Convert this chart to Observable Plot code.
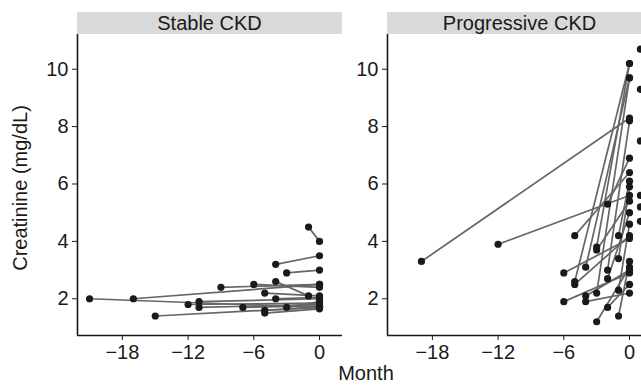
<!DOCTYPE html>
<html><head><meta charset="utf-8">
<script src="https://cdn.jsdelivr.net/npm/d3@7"></script>
<script src="https://cdn.jsdelivr.net/npm/@observablehq/plot@0.6"></script>
<style>
html,body{margin:0;padding:0;background:#fff;overflow:hidden;}
#wrap{position:relative;width:660px;height:389px;font-family:"Liberation Sans",Arial,sans-serif;color:#1a1a1a;}
#wrap svg{max-width:none !important;}
.panel{position:absolute;top:0;}
.strip{position:absolute;top:12px;height:22px;background:#d9d9d9;font-size:20px;line-height:23px;text-align:center;color:#1a1a1a;}
#ylab{position:absolute;left:20px;top:188px;transform:translate(-50%,-50%) rotate(-90deg);font-size:20px;white-space:nowrap;}
#xlab{position:absolute;top:362px;left:366px;transform:translateX(-50%);font-size:20px;}
</style>
</head><body>
<div id="wrap">
  <div id="left" class="panel" style="left:0"></div>
  <div id="right" class="panel" style="left:342px"></div>
  <div class="strip" style="left:77px;width:265px">Stable CKD</div>
  <div class="strip" style="left:387px;width:265px">Progressive CKD</div>
  <div id="ylab">Creatinine (mg/dL)</div>
  <div id="xlab">Month</div>
</div>
<script>
// ---- data ----
const panels = ["Stable CKD", "Progressive CKD"];
const xTicks = [-18, -12, -6, 0];
const yTicks = [2, 4, 6, 8, 10];

const stableFromMonth = [-21, -17, -15, -12, -11, -11, -9, -7, -6, -5, -5, -5, -4, -4, -3, -4, -3, -1];
const stableFromValue = [2.0, 2.0, 1.4, 1.8, 1.9, 1.7, 2.4, 1.7, 2.5, 2.2, 1.6, 1.5, 2.6, 2.0, 1.7, 3.2, 2.9, 4.5];
const stableToMonth   = [0, 0, 0, 0, 0, 0, 0, 0, 0, 0, 0, 0, -1, 0, 0, 0, 0, 0];
const stableToValue   = [1.7, 2.5, 1.7, 1.85, 2.0, 1.8, 2.5, 1.75, 2.4, 2.1, 1.7, 1.65, 2.1, 2.05, 1.9, 3.5, 3.0, 4.0];
const stableLoneMonth = [];
const stableLoneValue = [];

const progFromMonth = [-19, -12, -6, -6, -5, -5, -5, -4, -4, -4, -3, -3, -3, -3, -2, -2, -2, -2, -1, -1, -1, -1];
const progFromValue = [3.3, 3.9, 2.9, 1.9, 4.2, 2.6, 2.5, 3.1, 2.1, 1.9, 3.8, 3.7, 2.2, 1.2, 5.3, 3.0, 2.7, 1.7, 4.2, 3.4, 2.3, 1.4];
const progToMonth   = [0, 0, 0, 0, 0, 0, 0, 0, 0, 0, 0, 0, 0, 0, 0, 0, 0, 0, 0, 0, 0, 0];
const progToValue   = [8.3, 5.6, 4.1, 2.9, 6.4, 10.2, 4.2, 9.7, 3.0, 2.2, 10.2, 5.4, 9.7, 3.1, 6.9, 8.2, 5.0, 2.5, 6.1, 5.9, 4.6, 3.3];
const progLoneMonth = [1, 1, 1, 1, 1, 1];
const progLoneValue = [10.7, 9.3, 7.5, 5.6, 5.2, 4.7];

// ---- layout ----
const xDomain = [-22.1, 2.1];
const yDomain = [0.72, 11.21];
const ink = "#1a1a1a";

function build(fm, fv, tm, tv, lm, lv) {
  const pairs = fm.map((m, i) => ({m1: m, v1: fv[i], m2: tm[i], v2: tv[i]}));
  const dots = [
    ...pairs.map(d => ({m: d.m1, v: d.v1})),
    ...pairs.map(d => ({m: d.m2, v: d.v2})),
    ...lm.map((m, i) => ({m, v: lv[i]}))
  ];
  return {pairs, dots};
}

function panel(data, marginLeft, width) {
  return Plot.plot({
    width, height: 389,
    marginLeft, marginRight: 0, marginTop: 34, marginBottom: 54,
    style: {fontSize: "20px", fontFamily: '"Liberation Sans", Arial, sans-serif', color: ink, background: "transparent", overflow: "visible"},
    x: {domain: xDomain, ticks: xTicks, tickSize: 5, tickPadding: 4, label: null},
    y: {domain: yDomain, ticks: yTicks, tickSize: 5, tickPadding: 4, label: null},
    marks: [
      Plot.ruleX([xDomain[0]], {stroke: ink, strokeWidth: 1.6}),
      Plot.ruleY([yDomain[0]], {stroke: ink, strokeWidth: 1.6}),
      Plot.link(data.pairs, {x1: "m1", y1: "v1", x2: "m2", y2: "v2", stroke: "#666666", strokeWidth: 1.7}),
      Plot.dot(data.dots, {x: "m", y: "v", r: 3.6, fill: ink, stroke: "none"})
    ]
  });
}

const stable = build(stableFromMonth, stableFromValue, stableToMonth, stableToValue, stableLoneMonth, stableLoneValue);
const prog = build(progFromMonth, progFromValue, progToMonth, progToValue, progLoneMonth, progLoneValue);

document.getElementById("left").appendChild(panel(stable, 77, 342));
document.getElementById("right").appendChild(panel(prog, 45, 310));
</script>
</body></html>
